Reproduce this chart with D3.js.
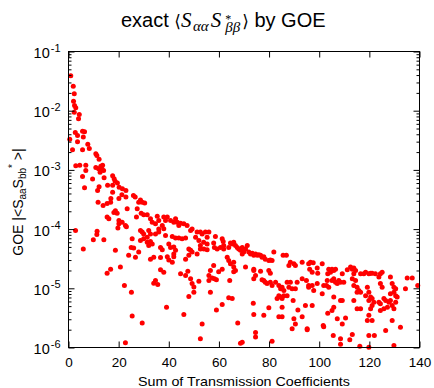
<!DOCTYPE html>
<html><head><meta charset="utf-8">
<script src="https://cdn.jsdelivr.net/npm/d3@7/dist/d3.min.js"></script>
<style>body{margin:0;background:#fff}svg{display:block}</style>
</head><body><svg id="c" width="434" height="388"></svg>
<script>
const xDomain = [0, 140];
const yDomain = [1e-6, 1e-1];
const xTicks = [0, 20, 40, 60, 80, 100, 120, 140];
const yTicks = [1e-6, 1e-5, 1e-4, 1e-3, 1e-2, 1e-1];
const yTickExponents = ["-6", "-5", "-4", "-3", "-2", "-1"];
const xTitle = "Sum of Transmission Coefficients";

// [sum of transmission coefficients, |<S_aa S_bb*>|]
const scatterPoints = [
[0.9,3.9e-2],[1.9,2.6e-2],[2.3,1.93e-2],[2.0,1.45e-2],[2.4,1.22e-2],[2.9,1.12e-2],[2.3,9.4e-3],[4.3,8.6e-3],[4.0,7.3e-3],[2.7,4.3e-3],[5.6,4.5e-3],[6.4,4.4e-3],[3.6,3.8e-3],[5.9,3.6e-3],[0.5,3.3e-3],[3.6,3.0e-3],[7.7,2.7e-3],[8.3,2.3e-3],[5.6,2.2e-3],[1.6,2.2e-3],[10.9,1.87e-3],[11.3,1.75e-3],[12.2,1.52e-3],[2.9,1.18e-3],[4.5,1.2e-3],[6.9,1.2e-3],[6.9,9.8e-4],[10.9,1.1e-3],[12.0,1.05e-3],[12.9,1.15e-3],[13.6,1.2e-3],[13.3,1.05e-3],[14.0,9.8e-4],[12.6,9.1e-4],[5.6,7.7e-4],[9.6,7.0e-4],[14.2,7.4e-4],[17.6,8.0e-4],[18.2,7.1e-4],[18.6,6.4e-4],[12.2,5.2e-4],[11.6,4.5e-4],[15.6,5.5e-4],[17.6,5.5e-4],[19.5,6.0e-4],[20.2,5.1e-4],[21.5,4.8e-4],[22.9,4.5e-4],[6.4,5.0e-4],[17.6,4.2e-4],[21.3,3.8e-4],[22.9,3.5e-4],[25.9,3.7e-4],[26.6,3.5e-4],[16.9,3.3e-4],
[28.7,3.1e-4],[29.4,2.85e-4],[30.4,2.75e-4],[28.0,2.85e-4],[16.8,2.85e-4],[15.4,2.7e-4],[13.8,2.5e-4],[18.7,2.05e-4],[18.1,1.9e-4],[23.4,2.2e-4],[15.4,1.6e-4],[16.1,1.5e-4],[27.1,1.6e-4],[29.0,1.85e-4],[30.0,1.75e-4],[31.4,1.75e-4],[32.7,1.5e-4],[33.4,1.3e-4],[35.4,1.65e-4],[36.0,1.4e-4],[34.7,1.23e-4],[38.0,1.6e-4],[39.4,1.6e-4],[38.7,1.4e-4],[37.4,1.15e-4],[38.0,1.01e-4],[36.0,1.0e-4],[40.7,1.4e-4],[42.0,1.3e-4],[42.7,1.5e-4],[43.4,1.3e-4],[44.0,1.15e-4],[44.7,1.25e-4],[46.0,1.23e-4],[47.3,1.15e-4],[48.7,9.5e-5],[49.3,1.0e-4],[51.3,8.9e-5],[52.6,8.9e-5],[53.3,8.3e-5],[54.6,8.9e-5],[55.3,7.3e-5],[56.0,8.9e-5],[20.1,1.4e-4],[21.4,1.3e-4],[22.7,1.15e-4],[19.7,1.04e-4],[23.1,1.1e-4],[28.7,9.5e-5],[29.4,8.9e-5],[30.0,8.3e-5],[32.0,9.5e-5],[32.7,8.3e-5],[34.7,8.3e-5],[36.0,8.9e-5],[38.7,7.8e-5],[41.4,7.5e-5],[42.7,7.1e-5],[44.0,7.1e-5],[45.3,6.9e-5],[46.7,7.1e-5],[50.7,7.3e-5],[52.0,6.4e-5],[25.4,6.9e-5],[30.0,6.9e-5],[31.4,6.0e-5],[32.7,6.2e-5],[32.0,5.3e-5],[33.4,5.6e-5],[36.7,4.9e-5],[37.4,4.5e-5],[40.0,5.6e-5],[40.7,4.9e-5],[42.0,5.0e-5],[42.7,4.4e-5],[42.0,3.8e-5],[42.0,3.4e-5],[48.0,4.6e-5],[48.7,4.4e-5],[49.3,4.1e-5],[51.3,3.8e-5],[52.6,4.6e-5],[54.0,4.6e-5],[55.3,4.5e-5],[46.7,3.1e-5],[48.0,3.6e-5],[14.1,6.6e-5],[25.0,4.9e-5],[26.0,4.8e-5],[28.0,4.1e-5],[26.7,3.35e-5],[32.7,3.1e-5],[34.0,3.35e-5],[36.7,3.3e-5],[39.4,3.4e-5],[40.0,3.0e-5],[41.4,2.76e-5],[18.7,4.4e-5],[20.7,2.3e-5],[16.8,2.1e-5],[15.4,1.8e-5],[36.7,2.05e-5],[38.0,1.87e-5],[34.7,1.35e-5],[34.0,1.22e-5],[35.6,1.16e-5],[44.7,1.76e-5],[46.7,1.65e-5],[47.6,1.95e-5],[48.7,1.45e-5],[49.3,1.2e-5],[50.0,1.05e-5],[52.0,1.32e-5],[48.0,7.3e-6],[50.0,8.6e-6],[56.0,1.65e-5],[56.6,8.6e-6],[22.3,1.12e-5],[25.1,8.6e-6],[39.1,4.8e-6],[46.0,3.6e-6],[25.4,3.4e-6],[29.4,2.6e-6],[53.3,2.5e-6],[52.6,1.4e-6],[22.7,1.2e-6],
[2.8,9.5e-5],[5.9,4.6e-5],[9.9,6.6e-5],[11.4,9.2e-5],[11.3,8.1e-5],[11.8,2.85e-4],[20.1,1.23e-4],[19.4,1.85e-4],[20.1,3.3e-4],[27.4,2.2e-4],[31.4,7.3e-5],[28.7,6.4e-5],[24.0,3.6e-5],
[53.9,6.0e-5],[52.6,5.3e-5],[55.3,5.6e-5],[58.6,7.5e-5],[57.9,5.8e-5],[58.2,4.9e-5],[59.3,4.6e-5],[61.3,6.9e-5],[61.7,6.2e-5],[60.6,4.9e-5],[61.9,5.3e-5],[61.9,4.6e-5],[64.6,5.8e-5],[65.3,5.6e-5],[65.9,6.0e-5],[63.9,4.9e-5],[66.6,5.3e-5],[67.3,4.9e-5],[67.9,4.6e-5],[68.6,4.4e-5],[69.3,4.9e-5],[70.6,4.6e-5],[71.3,5.3e-5],[69.9,4.1e-5],[69.3,3.8e-5],[71.9,4.1e-5],[72.6,3.8e-5],[73.3,3.9e-5],[73.9,3.6e-5],[74.6,3.8e-5],[75.3,3.6e-5],[75.9,3.7e-5],[76.6,3.6e-5],[77.2,3.35e-5],[77.9,3.4e-5],[78.5,3.1e-5],[79.9,2.95e-5],[80.5,3.0e-5],[81.2,2.95e-5],[81.9,4.1e-5],[85.6,3.6e-5],[86.9,3.6e-5],[88.5,2.76e-5],[87.9,2.43e-5],[89.9,2.6e-5],[90.5,2.43e-5],[93.2,2.76e-5],[95.8,2.6e-5],[96.2,2.1e-5],[63.3,3.35e-5],[63.9,2.95e-5],[64.6,2.6e-5],[65.9,2.76e-5],[65.9,2.3e-5],[66.6,2.0e-5],[65.9,1.9e-5],[57.9,2.43e-5],[56.6,2.0e-5],[59.9,1.9e-5],[57.3,1.5e-5],[58.2,1.45e-5],[59.0,1.39e-5],[56.0,1.35e-5],[61.3,2.1e-5],[64.3,1.35e-5],[70.6,2.3e-5],[73.9,2.1e-5],[74.6,1.65e-5],[73.9,1.45e-5],[73.9,2.0e-5],[76.6,1.95e-5],[79.9,2.0e-5],[80.5,1.8e-5],[77.2,1.39e-5],[77.9,1.35e-5],[78.5,1.27e-5],[79.2,1.2e-5],[80.5,1.27e-5],[81.2,1.12e-5],[82.6,1.27e-5],[83.9,1.12e-5],[84.6,9.8e-6],[85.2,1.04e-5],[85.9,9.2e-6],[87.2,1.27e-5],[87.9,1.04e-5],[88.5,1.27e-5],[89.2,9.8e-6],[90.5,9.8e-6],[91.2,1.27e-5],[93.2,1.45e-5],[94.9,1.35e-5],[95.8,1.12e-5],[83.9,7.5e-6],[84.6,7.1e-6],[85.2,6.7e-6],[85.9,7.5e-6],[87.2,7.5e-6],[83.2,6.7e-6],[89.6,6.2e-6],[94.5,5.1e-6],[91.5,4.3e-6],[65.3,6.7e-6],[63.9,6.9e-6],[61.3,5.3e-6],[59.0,4.3e-6],[73.7,5.6e-6],[73.9,3.6e-6],[77.9,3.5e-6],[79.9,4.7e-6],[83.9,3.3e-6],[85.2,3.3e-6],[85.2,4.8e-6],[89.9,3.05e-6],[90.5,2.5e-6],[89.2,2.07e-6],[95.2,2.07e-6],[67.5,2.6e-6],[74.6,1.8e-6],[74.6,1.5e-6],[81.2,1.27e-6],[69.3,1.23e-6],[68.6,1.18e-6],
[96.5,2.76e-5],[97.6,2.7e-5],[97.2,1.87e-5],[99.2,2.2e-5],[99.4,1.8e-5],[101.2,2.6e-5],[97.2,1.12e-5],[95.8,1.04e-5],[97.8,9.2e-6],[99.2,1.2e-5],[101.2,8.1e-6],[101.8,1.12e-5],[103.2,1.35e-5],[103.8,2.1e-5],[104.5,1.87e-5],[105.1,2.1e-5],[105.8,2.0e-5],[106.5,2.1e-5],[103.4,1.76e-5],[102.9,1.12e-5],[103.8,1.04e-5],[105.1,1.35e-5],[105.8,1.45e-5],[106.5,1.27e-5],[107.2,1.2e-5],[107.8,1.35e-5],[108.5,1.27e-5],[109.2,1.76e-5],[109.8,1.27e-5],[111.2,2.05e-5],[112.5,2.3e-5],[113.2,2.1e-5],[113.8,2.2e-5],[114.5,2.0e-5],[113.8,1.76e-5],[113.2,1.45e-5],[114.5,1.35e-5],[113.8,1.12e-5],[115.1,1.04e-5],[115.8,9.2e-6],[115.1,8.6e-6],[116.5,8.6e-6],[116.5,1.76e-5],[117.8,1.76e-5],[118.5,1.87e-5],[119.8,1.76e-5],[120.5,1.8e-5],[121.1,1.8e-5],[122.4,1.76e-5],[124.4,1.76e-5],[125.1,1.87e-5],[123.8,1.55e-5],[124.4,1.2e-5],[125.1,1.04e-5],[128.4,1.55e-5],[129.1,1.2e-5],[129.8,1.04e-5],[130.5,9.8e-6],[129.8,8.6e-6],[128.4,8.1e-6],[130.5,7.5e-6],[131.1,7.1e-6],[130.5,5.8e-6],[135.1,1.5e-5],[137.1,1.5e-5],[134.4,9.8e-6],[139.3,1.12e-5],[119.2,1.04e-5],[119.8,8.6e-6],[118.5,7.5e-6],[120.5,7.1e-6],[121.1,6.7e-6],[119.8,6.2e-6],[121.8,5.8e-6],[121.1,5.1e-6],[120.5,4.5e-6],[123.8,5.8e-6],[124.4,5.5e-6],[125.8,6.7e-6],[126.5,6.2e-6],[127.2,4.8e-6],[127.8,5.8e-6],[128.4,6.2e-6],[129.1,5.1e-6],[125.8,4.5e-6],[124.4,4.2e-6],[129.8,4.5e-6],[119.8,3.5e-6],[119.2,2.86e-6],[121.1,2.86e-6],[105.8,7.1e-6],[108.5,6.2e-6],[109.2,6.2e-6],[113.8,6.2e-6],[115.1,4.5e-6],[116.5,4.5e-6],[105.8,4.8e-6],[105.1,4.2e-6],[103.4,3.8e-6],[107.2,3.05e-6],[110.5,3.15e-6],[109.2,2.5e-6],[97.2,5.1e-6],[93.2,3.3e-6],[101.6,2.35e-6],[101.8,2.25e-6],[95.2,2.0e-6],[105.6,1.6e-6],[108.5,1.4e-6],[112.2,1.35e-6],[113.2,1.66e-6],[108.5,1.13e-6],[116.2,1.05e-6],[119.8,1.6e-6],[119.8,1.01e-6],[126.5,1.94e-6],[129.1,2.86e-6],[132.4,2.2e-6],[129.8,1.08e-6],[122.0,1.6e-6]
];

const svg = d3.select("#c");
const FONT = "'Liberation Sans', Arial, Helvetica, sans-serif";
const SERIF = "'Liberation Serif', 'Times New Roman', serif";
const pL = 68.5, pR = 419.5, pT = 51.5, pB = 347.5;
const x = d3.scaleLinear().domain(xDomain).range([pL, pR]);
const y = d3.scaleLog().domain(yDomain).range([pB, pT]);

svg.append("rect").attr("width", 434).attr("height", 388).attr("fill", "#fff");

// points
svg.append("g").selectAll("circle").data(scatterPoints).join("circle")
  .attr("cx", d => x(d[0])).attr("cy", d => y(d[1])).attr("r", 2.5)
  .attr("fill", "#ff0000");

// axes
const minorY = y.ticks().filter(v => !yTicks.some(t => Math.abs(t - v) / t < 1e-6));
function styleAxis(g) {
  g.select(".domain").remove();
  g.selectAll(".tick line").attr("stroke", "#000").attr("stroke-width", 1);
}
svg.append("g").attr("transform", `translate(0,${pB})`)
  .call(d3.axisBottom(x).tickValues(xTicks).tickSize(-6).tickPadding(10).tickFormat(d3.format("d")))
  .call(styleAxis)
  .selectAll("text").attr("font-family", FONT).attr("font-size", 13.5).attr("fill", "#000");
svg.append("g").attr("transform", `translate(0,${pT})`)
  .call(d3.axisTop(x).tickValues(xTicks).tickSize(-6).tickFormat(""))
  .call(styleAxis);
svg.append("g").attr("transform", `translate(${pL},0)`)
  .call(d3.axisLeft(y).tickValues(yTicks).tickSize(-6).tickFormat(""))
  .call(styleAxis);
svg.append("g").attr("transform", `translate(${pL},0)`)
  .call(d3.axisLeft(y).tickValues(minorY).tickSize(-3).tickFormat(""))
  .call(styleAxis);
svg.append("g").attr("transform", `translate(${pR},0)`)
  .call(d3.axisRight(y).tickValues(yTicks).tickSize(-6).tickFormat(""))
  .call(styleAxis);
svg.append("g").attr("transform", `translate(${pR},0)`)
  .call(d3.axisRight(y).tickValues(minorY).tickSize(-3).tickFormat(""))
  .call(styleAxis);

svg.append("rect").attr("x", pL).attr("y", pT)
  .attr("width", pR - pL).attr("height", pB - pT)
  .attr("fill", "none").attr("stroke", "#000").attr("stroke-width", 1);

// y tick labels 10^n
const yl = svg.append("g").attr("font-family", FONT).attr("fill", "#000");
yTicks.forEach((v, i) => {
  const t = yl.append("text").attr("x", 60.5).attr("y", y(v) + 6.5)
    .attr("text-anchor", "end").attr("font-size", 14.5);
  t.append("tspan").text("10");
  t.append("tspan").attr("font-size", 11).attr("dx", 1).attr("dy", -6.5).text(yTickExponents[i]);
});

// x title
svg.append("text").attr("x", 244).attr("y", 386).attr("text-anchor", "middle")
  .attr("font-family", FONT).attr("font-size", 13).attr("fill", "#000")
  .attr("textLength", 212).attr("lengthAdjust", "spacingAndGlyphs").text(xTitle);

// y title: GOE |<S_aa S_bb^*>|
const yt = svg.append("text").attr("transform", "translate(23,202) rotate(-90)")
  .attr("text-anchor", "middle").attr("font-family", FONT).attr("font-size", 14).attr("fill", "#000");
yt.append("tspan").text("GOE |<S");
yt.append("tspan").attr("font-size", 10).attr("dy", 3).text("aa");
yt.append("tspan").attr("dy", -3).text("S");
yt.append("tspan").attr("font-size", 10).attr("dy", 3).text("bb");
yt.append("tspan").attr("font-size", 10).attr("dy", -10).text("*");
yt.append("tspan").attr("dy", 7).text(" >|");

// title: exact <S_aa S*_bb> by GOE
const tt = svg.append("text").attr("x", 121).attr("y", 27)
  .attr("font-family", FONT).attr("font-size", 20).attr("fill", "#000");
tt.append("tspan").text("exact ");
tt.append("tspan").attr("font-family", "'DejaVu Sans', sans-serif").attr("font-size", 17).text("\u27E8");
tt.append("tspan").attr("font-family", SERIF).attr("font-style", "italic").attr("font-size", 21).text("S");
tt.append("tspan").attr("font-family", SERIF).attr("font-style", "italic").attr("font-size", 15).attr("dx", 1.5).attr("dy", 3.5).text("\u03B1\u03B1");
tt.append("tspan").attr("font-family", SERIF).attr("font-style", "italic").attr("font-size", 21).attr("dy", -3.5).attr("dx", 2).text("S");
tt.append("tspan").attr("font-family", SERIF).attr("font-size", 12).attr("dy", -4).attr("dx", 4).text("*");
tt.append("tspan").attr("font-family", SERIF).attr("font-style", "italic").attr("font-size", 15).attr("dy", 9).attr("dx", -6).text("\u03B2\u03B2");
tt.append("tspan").attr("font-family", "'DejaVu Sans', sans-serif").attr("font-size", 17).attr("dx", 2).attr("dy", -5).text("\u27E9");
tt.append("tspan").text(" by GOE");
</script></body></html>
